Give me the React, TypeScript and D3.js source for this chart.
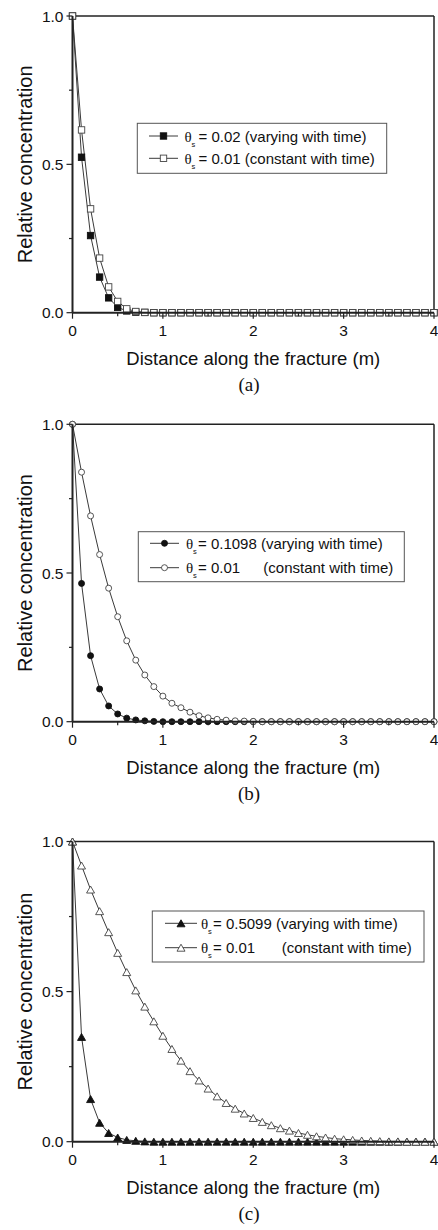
import React from "react";
import * as d3 from "d3";

// ---------- DATA ----------
const distance = [
  0, 0.1, 0.2, 0.3, 0.4, 0.5, 0.6, 0.7, 0.8, 0.9,
  1.0, 1.1, 1.2, 1.3, 1.4, 1.5, 1.6, 1.7, 1.8, 1.9,
  2.0, 2.1, 2.2, 2.3, 2.4, 2.5, 2.6, 2.7, 2.8, 2.9,
  3.0, 3.1, 3.2, 3.3, 3.4, 3.5, 3.6, 3.7, 3.8, 3.9, 4.0,
];

const xTicks = [0, 1, 2, 3, 4];
const xMinorTicks = [0.5, 1.5, 2.5, 3.5];
const yTicks = [0, 0.5, 1.0];
const yMinorTicks = [0.25, 0.75];

const panelAVarying = [
  1.0, 0.524, 0.26, 0.12, 0.05, 0.018, 0.006, 0.002, 0.001, 0,
  0, 0, 0, 0, 0, 0, 0, 0, 0, 0,
  0, 0, 0, 0, 0, 0, 0, 0, 0, 0,
  0, 0, 0, 0, 0, 0, 0, 0, 0, 0, 0,
];
const panelAConstant = [
  1.0, 0.616, 0.35, 0.184, 0.087, 0.038, 0.013, 0.004, 0.001, 0,
  0, 0, 0, 0, 0, 0, 0, 0, 0, 0,
  0, 0, 0, 0, 0, 0, 0, 0, 0, 0,
  0, 0, 0, 0, 0, 0, 0, 0, 0, 0, 0,
];

const panelBVarying = [
  1.0, 0.465, 0.222, 0.11, 0.053, 0.026, 0.012, 0.006, 0.003, 0.001,
  0, 0, 0, 0, 0, 0, 0, 0, 0, 0,
  0, 0, 0, 0, 0, 0, 0, 0, 0, 0,
  0, 0, 0, 0, 0, 0, 0, 0, 0, 0, 0,
];
const panelBConstant = [
  1.0, 0.839, 0.692, 0.562, 0.449, 0.353, 0.272, 0.207, 0.157, 0.118,
  0.086, 0.062, 0.047, 0.032, 0.02, 0.013, 0.008, 0.005, 0.003, 0.002,
  0.001, 0, 0, 0, 0, 0, 0, 0, 0, 0,
  0, 0, 0, 0, 0, 0, 0, 0, 0, 0, 0,
];

const panelCVarying = [
  1.0, 0.349, 0.142, 0.063, 0.029, 0.014, 0.006, 0.003, 0.001, 0,
  0, 0, 0, 0, 0, 0, 0, 0, 0, 0,
  0, 0, 0, 0, 0, 0, 0, 0, 0, 0,
  0, 0, 0, 0, 0, 0, 0, 0, 0, 0, 0,
];
const panelCConstant = [
  1.0, 0.92, 0.84, 0.768, 0.698, 0.629, 0.565, 0.504, 0.45, 0.401,
  0.353, 0.309, 0.27, 0.235, 0.204, 0.177, 0.151, 0.129, 0.11, 0.094,
  0.079, 0.066, 0.055, 0.045, 0.037, 0.029, 0.023, 0.018, 0.014, 0.01,
  0.008, 0.006, 0.004, 0.003, 0.002, 0.001, 0.001, 0, 0, 0, 0,
];

const legendA = [
  { value: "= 0.02 (varying with time)", extra: "" },
  { value: "= 0.01 (constant with time)", extra: "" },
];
const legendB = [
  { value: "= 0.1098 (varying with time)", extra: "" },
  { value: "= 0.01", extra: "(constant with time)" },
];
const legendC = [
  { value: "= 0.5099 (varying with time)", extra: "" },
  { value: "= 0.01", extra: "(constant with time)" },
];

const captions = ["(a)", "(b)", "(c)"];
const xTitle = "Distance along the fracture (m)";
const yTitle = "Relative concentration";

// ---------- STYLE ----------
const SANS = "'Liberation Sans', Arial, Helvetica, sans-serif";
const SERIF = "'Liberation Serif', 'Times New Roman', serif";
const AXIS = "#222";
const LINE = "#3a3a3a";

type MarkerType = "square" | "circle" | "triangle";

function Marker({ type, filled, cx, cy }: { type: MarkerType; filled: boolean; cx: number; cy: number }) {
  const fill = filled ? "#111" : "#fff";
  const stroke = filled ? "#111" : "#444";
  if (type === "square") {
    const s = 6.4;
    return <rect x={cx - s / 2} y={cy - s / 2} width={s} height={s} fill={fill} stroke={stroke} strokeWidth={0.9} />;
  }
  if (type === "circle") {
    return <circle cx={cx} cy={cy} r={3} fill={fill} stroke={stroke} strokeWidth={0.9} />;
  }
  const w = 8, h = 7;
  const pts = `${cx},${cy - h / 2} ${cx - w / 2},${cy + h / 2} ${cx + w / 2},${cy + h / 2}`;
  return <polygon points={pts} fill={fill} stroke={stroke} strokeWidth={0.9} strokeLinejoin="miter" />;
}

interface LegendLayout {
  x: number; y: number; w: number; h: number;
  rows: number[];
  lineX1: number; lineX2: number;
  thetaX: number; textX: number; extraX: number;
}

function Panel(props: {
  top: number; bottom: number; left: number; right: number;
  varying: number[]; constant: number[]; marker: MarkerType;
  legend: { value: string; extra: string }[]; lg: LegendLayout; caption: string;
}) {
  const { top, bottom, left, right, varying, constant, marker, legend, lg, caption } = props;
  const x = d3.scaleLinear().domain([0, 4]).range([left, right]);
  const y = d3.scaleLinear().domain([0, 1]).range([bottom, top]);
  const line = d3.line<number>().x((_, i) => x(distance[i])).y((d) => y(d));
  const midY = (top + bottom) / 2;
  const midX = (left + right) / 2;

  return (
    <g>
      {/* frame */}
      <line x1={left} y1={top} x2={right} y2={top} stroke={AXIS} strokeWidth={1.5} />
      <line x1={right} y1={top} x2={right} y2={bottom} stroke={AXIS} strokeWidth={1.5} />

      {/* series */}
      <path d={line(varying) || ""} fill="none" stroke={LINE} strokeWidth={1} />
      <path d={line(constant) || ""} fill="none" stroke={LINE} strokeWidth={1} />
      {varying.map((v, i) => (
        <Marker key={"v" + i} type={marker} filled={true} cx={x(distance[i])} cy={y(v)} />
      ))}
      {constant.map((v, i) => (
        <Marker key={"c" + i} type={marker} filled={false} cx={x(distance[i])} cy={y(v)} />
      ))}

      {/* axes */}
      <line x1={left} y1={top} x2={left} y2={bottom} stroke={AXIS} strokeWidth={2} />
      <line x1={left} y1={bottom} x2={right} y2={bottom} stroke={AXIS} strokeWidth={2} />
      {xTicks.map((t) => (
        <g key={"xt" + t}>
          <line x1={x(t)} x2={x(t)} y1={bottom} y2={bottom + 6} stroke={AXIS} strokeWidth={1.2} />
          <text x={x(t)} y={bottom + 23} textAnchor="middle" fontFamily={SANS} fontSize={15.5} fill="#111">
            {t}
          </text>
        </g>
      ))}
      {xMinorTicks.map((t) => (
        <line key={"xm" + t} x1={x(t)} x2={x(t)} y1={bottom} y2={bottom + 3.5} stroke={AXIS} strokeWidth={1.2} />
      ))}
      {yTicks.map((t) => (
        <g key={"yt" + t}>
          <line x1={left - 6} x2={left} y1={y(t)} y2={y(t)} stroke={AXIS} strokeWidth={1.2} />
          <text x={left - 9} y={y(t)} dy="0.36em" textAnchor="end" fontFamily={SANS} fontSize={15.5} fill="#111">
            {t.toFixed(1)}
          </text>
        </g>
      ))}
      {yMinorTicks.map((t) => (
        <line key={"ym" + t} x1={left - 3.5} x2={left} y1={y(t)} y2={y(t)} stroke={AXIS} strokeWidth={1.2} />
      ))}

      {/* titles */}
      <text x={midX} y={bottom + 52} textAnchor="middle" fontFamily={SANS} fontSize={18.5} fill="#111">
        {xTitle}
      </text>
      <text
        transform={`translate(25,${midY}) rotate(-90)`}
        textAnchor="middle"
        dy="0.36em"
        fontFamily={SANS}
        fontSize={20}
        fill="#111"
      >
        {yTitle}
      </text>
      <text x={249} y={bottom + 78} textAnchor="middle" fontFamily={SERIF} fontSize={19} fill="#111">
        {caption}
      </text>

      {/* legend */}
      <rect x={lg.x} y={lg.y} width={lg.w} height={lg.h} fill="#fff" stroke="#555" strokeWidth={1} />
      {legend.map((row, i) => {
        const ry = lg.rows[i];
        return (
          <g key={"lg" + i}>
            <line x1={lg.lineX1} x2={lg.lineX2} y1={ry} y2={ry} stroke={LINE} strokeWidth={1} />
            <Marker type={marker} filled={i === 0} cx={(lg.lineX1 + lg.lineX2) / 2} cy={ry} />
            <text x={lg.thetaX} y={ry + 5.5} fontFamily={SERIF} fontSize={15} fill="#111">
              θ
            </text>
            <text x={lg.thetaX + 7} y={ry + 10.5} fontFamily={SANS} fontSize={7.5} fill="#111">
              s
            </text>
            <text x={lg.textX} y={ry + 5.5} fontFamily={SANS} fontSize={15} fill="#111">
              {row.value}
            </text>
            {row.extra && (
              <text x={lg.extraX} y={ry + 5.5} fontFamily={SANS} fontSize={15} fill="#111">
                {row.extra}
              </text>
            )}
          </g>
        );
      })}
    </g>
  );
}

export default function App() {
  const left = 72.5;
  const right = 434;
  return (
    <svg
      width={438}
      height={1230}
      viewBox="0 0 438 1230"
      style={{ position: "absolute", left: 0, top: 0, background: "#fff" }}
    >
      <rect x={0} y={0} width={438} height={1230} fill="#fff" />
      <Panel
        top={16}
        bottom={312.7}
        left={left}
        right={right}
        varying={panelAVarying}
        constant={panelAConstant}
        marker="square"
        legend={legendA}
        caption={captions[0]}
        lg={{ x: 137.3, y: 123.3, w: 249.4, h: 50, rows: [136, 158.3], lineX1: 149, lineX2: 178, thetaX: 184.5, textX: 198.5, extraX: 0 }}
      />
      <Panel
        top={424.3}
        bottom={721.7}
        left={left}
        right={right}
        varying={panelBVarying}
        constant={panelBConstant}
        marker="circle"
        legend={legendB}
        caption={captions[1]}
        lg={{ x: 138.3, y: 531.7, w: 266, h: 50, rows: [543.3, 567.7], lineX1: 150, lineX2: 179, thetaX: 186, textX: 198, extraX: 263.3 }}
      />
      <Panel
        top={841.5}
        bottom={1141.7}
        left={left}
        right={right}
        varying={panelCVarying}
        constant={panelCConstant}
        marker="triangle"
        legend={legendC}
        caption={captions[2]}
        lg={{ x: 152.3, y: 911, w: 271.7, h: 51, rows: [923.3, 947.7], lineX1: 165, lineX2: 197, thetaX: 201, textX: 213, extraX: 281.7 }}
      />
    </svg>
  );
}
